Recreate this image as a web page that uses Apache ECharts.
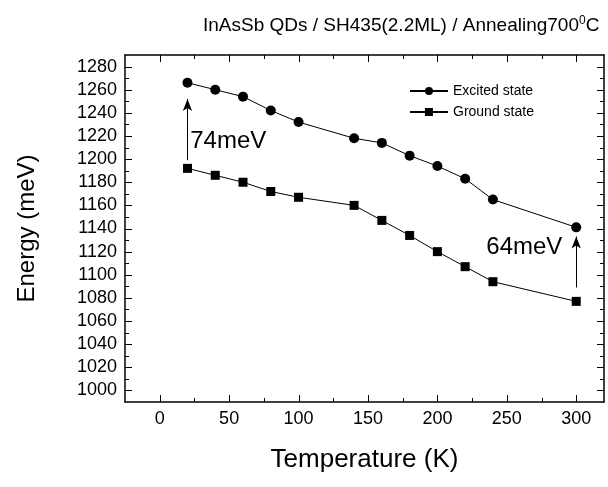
<!DOCTYPE html>
<html><head><meta charset="utf-8">
<script src="https://cdn.jsdelivr.net/npm/echarts@6/dist/echarts.min.js"></script>
<style>html,body{margin:0;padding:0;background:#fff}#c{width:608px;height:487px}</style>
</head><body><div id="c"></div>
<script>
const temps = [20, 40, 60, 80, 100, 140, 160, 180, 200, 220, 240, 300];
const excited = [1266, 1260, 1254, 1242, 1232, 1218, 1214, 1203, 1194, 1183, 1165, 1141];
const ground = [1192, 1186, 1180, 1172, 1167, 1160, 1147, 1134, 1120, 1107, 1094, 1077];
const xMajor = [0, 50, 100, 150, 200, 250, 300];
const xMinor = [25, 75, 125, 175, 225, 275];
const yMajor = [1000, 1020, 1040, 1060, 1080, 1100, 1120, 1140, 1160, 1180, 1200, 1220, 1240, 1260, 1280];
const yMinor = [1010, 1030, 1050, 1070, 1090, 1110, 1130, 1150, 1170, 1190, 1210, 1230, 1250, 1270];
const arrow74 = [[20, 1199], [20, 1252]];
const arrow64 = [[300, 1089], [300, 1133]];
const label74 = [22, 1215];
const label64 = [290, 1124];

const FONT = 'Liberation Sans, Arial, sans-serif';
const XR = [-25, 320];
const YR = [990, 1290];
const GRID = {left: 125, right: 4, top: 55, bottom: 85};
const W = 608, H = 487;
function xa(pos, labels) {
  return {type: 'value', position: pos, min: XR[0], max: XR[1], interval: 25,
    axisLine: {show: true, onZero: false, lineStyle: {color: '#000', width: 1.5}},
    axisTick: {show: false},
    axisLabel: {show: labels, formatter: v => (xMajor.indexOf(v) >= 0 ? String(v) : ''), color: '#000', fontSize: 18, fontFamily: FONT, margin: 8},
    splitLine: {show: false}};
}
function ya(pos, labels) {
  return {type: 'value', position: pos, min: YR[0], max: YR[1], interval: 10,
    axisLine: {show: true, onZero: false, lineStyle: {color: '#000', width: 1.5}},
    axisTick: {show: false},
    axisLabel: {show: labels, formatter: v => (yMajor.indexOf(v) >= 0 ? String(v) : ''), color: '#000', fontSize: 18, fontFamily: FONT, margin: 8},
    splitLine: {show: false}};
}
const xAxes = [xa('bottom', true), xa('top', false)];
xAxes[0].name = 'Temperature (K)';
xAxes[0].nameLocation = 'middle';
xAxes[0].nameGap = 45;
xAxes[0].nameTextStyle = {fontSize: 26, fontFamily: FONT, color: '#000'};
const yAxes = [ya('left', true), ya('right', false)];
yAxes[0].name = 'Energy (meV)';
yAxes[0].nameLocation = 'middle';
yAxes[0].nameGap = 86;
yAxes[0].nameTextStyle = {fontSize: 24, fontFamily: FONT, color: '#000'};

const chart = echarts.init(document.getElementById('c'), null, {renderer: 'canvas'});
try {
chart.setOption({
  animation: false,
  backgroundColor: '#fff',
  title: {
    text: '{a|InAsSb QDs / SH435(2.2ML) / Annealing700}{s|0}{a|C}',
    left: 198, top: 10,
    textStyle: {fontWeight: 'normal', rich: {
      a: {fontSize: 19, fontFamily: FONT, fontWeight: 'normal', color: '#000', lineHeight: 22},
      s: {fontSize: 12, fontFamily: FONT, fontWeight: 'normal', color: '#000', verticalAlign: 'top', lineHeight: 22, padding: [0, 0, 10, 0]}
    }}
  },
  grid: {left: GRID.left, right: GRID.right, top: GRID.top, bottom: GRID.bottom, containLabel: false},
  legend: {
    left: 404, top: 79, orient: 'vertical', itemWidth: 38, itemHeight: 10, itemGap: 7,
    textStyle: {fontSize: 14, fontFamily: FONT, color: '#000'},
    data: ['Excited state', 'Ground state']
  },
  xAxis: xAxes,
  yAxis: yAxes,
  series: [
    {name: 'Excited state', type: 'line', data: temps.map((t, i) => [t, excited[i]]),
     symbol: 'circle', symbolSize: 10, itemStyle: {color: '#000'}, lineStyle: {color: '#000', width: 1},
     markLine: {silent: true, symbol: ['none', 'arrow'], symbolSize: [7, 12], label: {show: false},
       lineStyle: {color: '#000', width: 1, type: 'solid'},
       data: [[{coord: arrow74[0]}, {coord: arrow74[1]}], [{coord: arrow64[0]}, {coord: arrow64[1]}]]},
     markPoint: {symbolSize: 0, silent: true,
       data: [
         {coord: label74, label: {show: true, formatter: '74meV', position: 'right', distance: 0, fontSize: 24, fontFamily: FONT, color: '#000'}},
         {coord: label64, label: {show: true, formatter: '64meV', position: 'left', distance: 0, fontSize: 24, fontFamily: FONT, color: '#000'}}
       ]}
    },
    {name: 'Ground state', type: 'line', data: temps.map((t, i) => [t, ground[i]]),
     symbol: 'rect', symbolSize: 9, itemStyle: {color: '#000'}, lineStyle: {color: '#000', width: 1}}
  ]
});
} catch (e) { console.error(e); }

// Tick marks, positioned through the axes' scales (with a linear fallback on the same axis ranges)
const gx0 = GRID.left, gx1 = W - GRID.right, gy0 = H - GRID.bottom, gy1 = GRID.top;
function px(v) {
  let r = NaN;
  try { r = chart.convertToPixel({xAxisIndex: 0}, v); if (Array.isArray(r)) r = r[0]; } catch (e) {}
  return isFinite(r) ? r : gx0 + (v - XR[0]) / (XR[1] - XR[0]) * (gx1 - gx0);
}
function py(v) {
  let r = NaN;
  try { r = chart.convertToPixel({yAxisIndex: 0}, v); if (Array.isArray(r)) r = r[1]; } catch (e) {}
  return isFinite(r) ? r : gy0 - (v - YR[0]) / (YR[1] - YR[0]) * (gy0 - gy1);
}
const xl = px(XR[0]), xr = px(XR[1]), yb = py(YR[0]), yt = py(YR[1]);
const segs = [];
function seg(x1, y1, x2, y2) { segs.push([x1, y1, x2, y2]); }
xMajor.forEach(v => { const x = Math.round(px(v)) + 0.5; seg(x, yb, x, yb - 7); seg(x, yt, x, yt + 7); });
xMinor.forEach(v => { const x = Math.round(px(v)) + 0.5; seg(x, yb, x, yb - 4); seg(x, yt, x, yt + 4); });
yMajor.forEach(v => { const y = Math.round(py(v)) + 0.5; seg(xl, y, xl + 7, y); seg(xr, y, xr - 7, y); });
yMinor.forEach(v => { const y = Math.round(py(v)) + 0.5; seg(xl, y, xl + 4, y); seg(xr, y, xr - 4, y); });
let drawn = false;
try {
  const zr = chart.getZr();
  segs.forEach(s => {
    zr.add(new echarts.graphic.Line({shape: {x1: s[0], y1: s[1], x2: s[2], y2: s[3]}, style: {stroke: '#000', lineWidth: 1}, z: 100, silent: true}));
  });
  drawn = true;
} catch (e) { console.error(e); }
if (!drawn) {
  try {
    chart.setOption({graphic: {elements: segs.map(s => ({type: 'line', silent: true, z: 100,
      shape: {x1: s[0], y1: s[1], x2: s[2], y2: s[3]}, style: {stroke: '#000', lineWidth: 1}}))}});
  } catch (e) { console.error(e); }
}
</script></body></html>
